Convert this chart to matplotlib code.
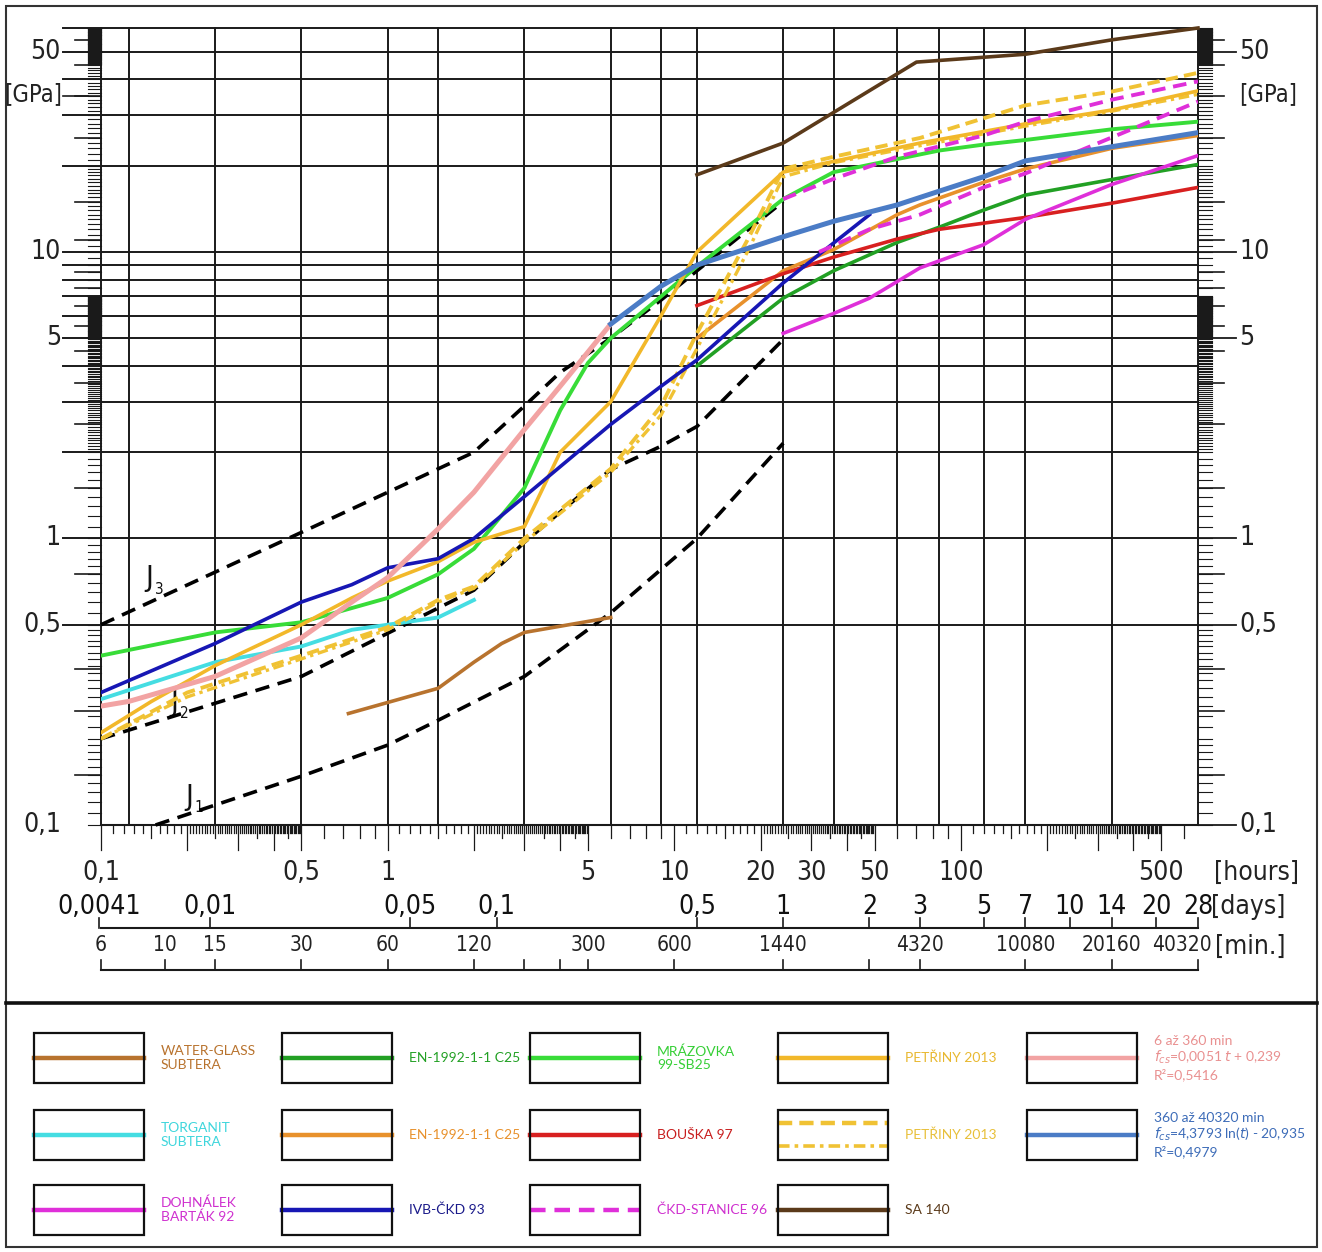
import os
import numpy as np
import matplotlib
matplotlib.use('Agg')
import matplotlib.pyplot as plt
from matplotlib.transforms import blended_transform_factory as blend, offset_copy
from matplotlib.patches import Rectangle
from matplotlib.ticker import NullLocator
from matplotlib import font_manager as fm

_names = {f.name for f in fm.fontManager.ttflist}
LF = 'Lato' if 'Lato' in _names else 'DejaVu Sans'

# condensed technical font for the axis texts, if one is installed
_cond = None
for f in fm.fontManager.ttflist:
    if os.path.basename(f.fname) == 'DejaVuSansCondensed.ttf':
        _cond = f.fname
if _cond is None:
    for f in fm.fontManager.ttflist:
        fn = os.path.basename(f.fname).lower()
        if ('condensed' in fn or 'narrow' in fn) and not any(
                k in fn for k in ('bold', 'italic', 'oblique', 'light', 'thin', 'black',
                                  'semi', 'medium', 'extra', 'heavy')):
            _cond = f.fname
            break


def FP(size):
    if _cond is not None:
        return fm.FontProperties(fname=_cond, size=size)
    return fm.FontProperties(family='Liberation Sans', size=size * 0.88)


# ---------------- data (time in hours, modulus in GPa) ----------------
wg_h = [0.73, 1.5, 2, 2.5, 3, 6]
wg_v = [0.245, 0.30, 0.37, 0.43, 0.47, 0.53]

tor_h = [0.1, 0.25, 0.5, 0.75, 1, 1.5, 2]
tor_v = [0.275, 0.37, 0.42, 0.48, 0.50, 0.53, 0.61]

doh_h = [24, 36, 48, 72, 120, 168, 336, 672]
doh_v = [5.2, 6.1, 6.9, 8.8, 10.6, 13.0, 17.2, 21.7]

eng_h = [12, 24, 36, 60, 84, 120, 168, 336, 672]
eng_v = [4.0, 6.9, 8.6, 10.8, 12.2, 14.0, 15.8, 17.9, 20.2]

eno_h = [12, 24, 36, 60, 72, 120, 168, 336, 672]
eno_v = [5.0, 8.6, 10.2, 13.5, 14.6, 17.5, 19.5, 23.0, 25.5]

ivb_h = [0.1, 0.25, 0.5, 0.75, 1, 1.5, 2, 3, 6, 9, 12, 24, 48]
ivb_v = [0.29, 0.43, 0.60, 0.69, 0.79, 0.85, 1.0, 1.4, 2.5, 3.4, 4.2, 7.8, 13.5]

mraz_h = [0.1, 0.25, 0.5, 1, 1.5, 2, 3, 4, 5, 6, 9, 12, 24, 36, 60, 84, 120, 168, 336, 672]
mraz_v = [0.39, 0.47, 0.51, 0.62, 0.75, 0.92, 1.5, 2.8, 4.1, 5.0, 7.0, 8.9, 15.3, 19.0, 21.1,
          22.6, 23.7, 24.6, 26.8, 28.5]

bou_h = [12, 24, 36, 60, 84, 168, 336, 672]
bou_v = [6.5, 8.4, 9.6, 11.1, 12.0, 13.2, 14.8, 16.8]

ckd1_h = [24, 36, 60, 120, 168, 336, 672]
ckd1_v = [15.3, 18.0, 21.5, 25.5, 28.5, 34.0, 39.4]
ckd2_h = [32, 48, 72, 120, 168, 336, 672]
ckd2_v = [10.0, 12.0, 13.5, 16.8, 18.8, 25.1, 33.5]

pet_h = [0.1, 0.15, 0.25, 0.5, 0.75, 1, 1.5, 2, 3, 4, 6, 9, 12, 24, 72, 168, 336, 672]
pet_v = [0.21, 0.27, 0.36, 0.50, 0.62, 0.71, 0.83, 0.97, 1.1, 2.0, 3.0, 6.0, 10.0, 19.0, 24.0,
         28.0, 31.3, 36.5]

petd_h = [0.1, 0.2, 0.5, 1, 1.5, 2, 3, 6, 9, 12, 18, 24, 36, 72, 168, 336, 672]
petd_v = [0.20, 0.29, 0.39, 0.49, 0.61, 0.68, 1.0, 1.75, 2.9, 5.2, 11.0, 19.5, 21.5, 25.0, 32.5,
          36.3, 42.2]

petdd_h = [0.1, 0.2, 0.5, 1, 1.5, 2, 3, 6, 9, 12, 18, 24, 36, 72, 168, 336, 672]
petdd_v = [0.20, 0.28, 0.38, 0.48, 0.60, 0.67, 0.97, 1.70, 2.7, 4.6, 10.0, 18.3, 20.5, 23.5,
           27.5, 31.0, 35.5]

pink_h = [0.1, 0.125, 0.25, 0.5, 0.75, 1, 1.5, 2, 3, 4, 6]
pink_v = [0.26, 0.27, 0.33, 0.45, 0.60, 0.73, 1.08, 1.45, 2.4, 3.4, 5.6]

blue_h = [6, 9, 12, 24, 36, 60, 84, 120, 168, 336, 672]
blue_v = [5.6, 7.6, 9.0, 11.3, 12.8, 14.6, 16.3, 18.3, 20.8, 23.3, 26.1]

sa_h = [12, 24, 70, 168, 336, 672]
sa_v = [18.6, 24.0, 46.0, 49.0, 55.0, 60.5]

j1_h = [0.155, 0.5, 1, 1.5, 3, 6, 12, 24]
j1_v = [0.1, 0.148, 0.19, 0.232, 0.33, 0.55, 1.0, 2.15]
j2_h = [0.1, 0.5, 2, 3, 6, 9, 12, 24]
j2_v = [0.2, 0.33, 0.66, 0.97, 1.74, 2.1, 2.46, 4.95]
j3_h = [0.1, 0.5, 2, 3, 4, 6, 9, 12, 24]
j3_v = [0.5, 1.05, 2.0, 2.9, 3.8, 5.0, 6.8, 8.6, 15.0]

vgrid_h = [0.1, 0.125, 0.25, 0.5, 1, 1.5, 3, 6, 9, 12, 24, 36, 60, 84, 120, 168, 336, 672]
hgrid_v = [0.5, 1, 2, 3, 4, 5, 6, 7, 8, 9, 10, 20, 30, 40, 50]
ylab_v = [50, 10, 5, 1, 0.5, 0.1]
ylab_t = ['50', '10', '5', '1', '0,5', '0,1']
ymid_v = [55, 45, 35, 25, 15, 11, 8.5, 7.5, 6.5, 5.5, 4.5, 3.5, 2.5, 1.5, 0.75, 0.35, 0.25, 0.15]

hour_lab_v = [0.1, 0.5, 1, 5, 10, 20, 30, 50, 100, 500]
hour_lab_t = ['0,1', '0,5', '1', '5', '10', '20', '30', '50', '100', '500']
day_v = [0.0041, 0.01, 0.05, 0.1, 0.5, 1, 2, 3, 5, 7, 10, 14, 20, 28]
day_t = ['0,0041', '0,01', '0,05', '0,1', '0,5', '1', '2', '3', '5', '7', '10', '14', '20', '28']
min_lab = [6, 10, 15, 30, 60, 120, 300, 600, 1440, 4320, 10080, 20160, 40320]
min_tick = [6, 10, 15, 30, 60, 120, 180, 240, 300, 600, 1440, 2880, 4320, 10080, 20160, 40320]

# ---------------- figure ----------------
W, H = 1322, 1252
fig = plt.figure(figsize=(W / 100, H / 100), dpi=100)
ax0 = fig.add_axes([0, 0, 1, 1], zorder=0)
ax0.set_xlim(0, W)
ax0.set_ylim(H, 0)
ax0.axis('off')

L, R, T, B = 101, 1198, 28, 825
ax = fig.add_axes([L / W, 1 - B / H, (R - L) / W, (B - T) / H], zorder=2)
ax.set_facecolor('none')
ax.set_xscale('log')
ax.set_yscale('log')
ax.set_xlim(0.1, 672)
ax.set_ylim(0.1, 60.5)
for a in (ax.xaxis, ax.yaxis):
    a.set_major_locator(NullLocator())
    a.set_minor_locator(NullLocator())
for s in ax.spines.values():
    s.set_visible(False)

tx_y = blend(ax0.transData, ax.transData)   # x pixel, y data
tx_x = blend(ax.transData, ax0.transData)   # x data, y pixel
GC = '#1a1a1a'
TC = '#222222'

# grid
for h in vgrid_h:
    ax.plot([h, h], [0.1, 60.5], color=GC, lw=1.4, zorder=1, clip_on=False)
for v in hgrid_v:
    ax0.plot([63, R], [v, v], color=GC, lw=1.4, transform=tx_y, clip_on=False)
ax0.plot([63, R], [60.5, 60.5], color=GC, lw=1.4, transform=tx_y, clip_on=False)
ax0.plot([L, R], [0.1, 0.1], color=GC, lw=1.5, transform=tx_y, clip_on=False)

# y rulers (left and right)
ruler = np.concatenate([np.arange(0.1, 0.2, 0.01), np.arange(0.2, 0.5, 0.02),
                        np.arange(0.5, 1.0, 0.05), np.arange(1, 2, 0.1), np.arange(2, 5, 0.05),
                        np.arange(5, 7, 0.02), np.arange(7, 10, 0.5), np.arange(10, 20, 0.5),
                        np.arange(20, 45, 1.0), np.arange(45, 60.5, 0.2)])
for v in ruler:
    ax0.plot([88, L], [v, v], color=GC, lw=0.8, transform=tx_y, clip_on=False)
    ax0.plot([R, 1212], [v, v], color=GC, lw=0.8, transform=tx_y, clip_on=False)
for v in ymid_v:
    ax0.plot([75, L], [v, v], color=GC, lw=1.2, transform=tx_y, clip_on=False)
    ax0.plot([R, 1224], [v, v], color=GC, lw=1.2, transform=tx_y, clip_on=False)
for v in ylab_v:
    ax0.plot([R, 1236], [v, v], color=GC, lw=1.3, transform=tx_y, clip_on=False)
for v, t in zip(ylab_v, ylab_t):
    ax0.text(61, v, t, transform=tx_y, ha='right', va='center', fontproperties=FP(19),
             color=TC)
    ax0.text(1239, v, t, transform=tx_y, ha='left', va='center', fontproperties=FP(19),
             color=TC)
ax0.plot([63, 88], [35, 35], color=GC, lw=1.2, transform=tx_y)
ax0.text(62, 35.5, '[GPa]', transform=tx_y, ha='right', va='center', fontproperties=FP(17),
         color=TC)
ax0.text(1239, 35.5, '[GPa]', transform=tx_y, ha='left', va='center', fontproperties=FP(17),
         color=TC)


# hours ruler below axis
def hour_ticks():
    out = []
    for d in [0.1, 1, 10, 100]:
        for k in range(10, 20):
            v = d * k / 10
            out.append((v, 25 if k == 10 else (13 if k == 15 else 8)))
        for k in range(40, 100):
            v = d * k / 20
            if k % 20 == 0:
                ln = 25
            elif k % 10 == 0:
                ln = 13
            else:
                ln = 8
            out.append((v, ln))
        for k in range(5, 10):
            out.append((d * k, 25 if k == 5 else 13))
    return [(v, l) for v, l in out if v <= 672]


for v, ln in hour_ticks():
    ax0.plot([v, v], [B, B + ln], color=GC, lw=0.9, transform=tx_x, clip_on=False)
for v, t in zip(hour_lab_v, hour_lab_t):
    ax0.text(v, 873, t, transform=tx_x, ha='center', va='center', fontproperties=FP(19),
             color=TC)
ax0.text(1214, 873, '[hours]', ha='left', va='center', fontproperties=FP(19), color=TC)

# days row
ax0.plot([0.1, 672], [928, 928], color=GC, lw=1.5, transform=tx_x)
for v, t in zip(day_v, day_t):
    ax0.plot([v * 24, v * 24], [918, 928], color=GC, lw=1.2, transform=tx_x)
    ax0.text(v * 24, 907, t, transform=tx_x, ha='center', va='center', fontproperties=FP(19),
             color='#111')
ax0.text(1211, 907, '[days]', ha='left', va='center', fontproperties=FP(19), color=TC)

# minutes row
ax0.plot([0.1, 672], [970, 970], color=GC, lw=1.5, transform=tx_x)
for v in min_tick:
    ax0.plot([v / 60, v / 60], [960, 970], color=GC, lw=1.2, transform=tx_x)
tx_last = offset_copy(tx_x, fig=fig, x=14, y=0, units='dots')
for i, v in enumerate(min_lab):
    if i == len(min_lab) - 1:
        ax0.text(v / 60, 945, str(v), transform=tx_last, ha='right', va='center',
                 fontproperties=FP(15), color=TC)
    else:
        ax0.text(v / 60, 945, str(v), transform=tx_x, ha='center', va='center',
                 fontproperties=FP(15), color=TC)
ax0.text(1215, 947, '[min.]', ha='left', va='center', fontproperties=FP(19), color=TC)

# ---------------- colours ----------------
C_WG = '#b8732e'
C_TOR = '#45dde2'
C_DOH = '#df2fd9'
C_ENG = '#22a024'
C_ENO = '#e8912c'
C_IVB = '#1717b4'
C_MRZ = '#38dc38'
C_BOU = '#d82020'
C_CKD = '#df2fd9'
C_PET = '#f2b82a'
C_PETD = '#f0c234'
C_PINK = '#f2a3a3'
C_BLUE = '#4b7cc6'
C_SA = '#5b3a1a'

DASH_J = (0, (4, 2.4))
DASH_P = (0, (3.2, 1.6))
DASHDOT_P = (0, (3.2, 1.4, 1.0, 1.4))
DASH_C = (0, (3.5, 2.0))

# ---------------- series ----------------
for hh, vv in [(j1_h, j1_v), (j2_h, j2_v), (j3_h, j3_v)]:
    ax.plot(hh, vv, color='black', lw=2.6, ls=DASH_J, zorder=3, clip_on=False)

ax.plot(wg_h, wg_v, color=C_WG, lw=2.6, zorder=4)
ax.plot(tor_h, tor_v, color=C_TOR, lw=2.8, zorder=4)
ax.plot(eng_h, eng_v, color=C_ENG, lw=2.6, zorder=4)
ax.plot(eno_h, eno_v, color=C_ENO, lw=2.6, zorder=4)
ax.plot(bou_h, bou_v, color=C_BOU, lw=2.6, zorder=4)
ax.plot(doh_h, doh_v, color=C_DOH, lw=2.6, zorder=4)
ax.plot(ivb_h, ivb_v, color=C_IVB, lw=2.6, zorder=5)
ax.plot(mraz_h, mraz_v, color=C_MRZ, lw=2.8, zorder=4)
ax.plot(petd_h, petd_v, color=C_PETD, lw=2.8, ls=DASH_P, zorder=4)
ax.plot(petdd_h, petdd_v, color=C_PETD, lw=2.4, ls=DASHDOT_P, zorder=4)
ax.plot(pet_h, pet_v, color=C_PET, lw=2.6, zorder=4)
ax.plot(ckd1_h, ckd1_v, color=C_CKD, lw=2.8, ls=DASH_C, zorder=5)
ax.plot(ckd2_h, ckd2_v, color=C_CKD, lw=2.8, ls=DASH_C, zorder=5)
ax.plot(pink_h, pink_v, color=C_PINK, lw=3.6, zorder=5)
ax.plot(blue_h, blue_v, color=C_BLUE, lw=3.6, zorder=5)
ax.plot(sa_h, sa_v, color=C_SA, lw=2.6, zorder=4, clip_on=False)

# J labels
for x, y, s in [(189, 797, '1'), (174, 703, '2'), (149, 578, '3')]:
    ax0.text(x, y, 'J', ha='center', va='center', fontproperties=FP(21), color='#111',
             zorder=6)
    ax0.text(x + 10, y + 11, s, ha='center', va='center', fontproperties=FP(11),
             color='#111', zorder=6)

# ---------------- frame ----------------
ax0.add_patch(Rectangle((6, 6), 1311, 1241, fill=False, ec='#333', lw=1.5))
ax0.plot([6, 1317], [1003, 1003], color='#111', lw=2.6)

# ---------------- legend ----------------
col_x = [34, 282, 530, 778, 1027]
row_y = [1033, 1110, 1185]
BW, BH = 110, 50

legend_items = [
    (0, 0, C_WG, '-', 'WATER-GLASS\nSUBTERA', C_WG),
    (1, 0, C_ENG, '-', 'EN-1992-1-1 C25', C_ENG),
    (2, 0, C_MRZ, '-', 'MRÁZOVKA\n99-SB25', '#36cf36'),
    (3, 0, C_PET, '-', 'PETŘINY 2013', '#e8b830'),
    (4, 0, C_PINK, '-', '6 až 360 min\n$f_{cs}$=0,0051 $t$ + 0,239\nR²=0,5416', '#e99090'),
    (0, 1, C_TOR, '-', 'TORGANIT\nSUBTERA', '#3fd6dc'),
    (1, 1, C_ENO, '-', 'EN-1992-1-1 C25', C_ENO),
    (2, 1, C_BOU, '-', 'BOUŠKA 97', '#c81e1e'),
    (3, 1, C_PETD, 'dd', 'PETŘINY 2013', '#e8c03a'),
    (4, 1, C_BLUE, '-', '360 až 40320 min\n$f_{cs}$=4,3793 ln($t$) - 20,935\nR²=0,4979',
     '#3d6cb8'),
    (0, 2, C_DOH, '-', 'DOHNÁLEK\nBARTÁK 92', '#cf30cf'),
    (1, 2, C_IVB, '-', 'IVB-ČKD 93', '#1a1a8a'),
    (2, 2, C_CKD, '--', 'ČKD-STANICE 96', '#cf30cf'),
    (3, 2, C_SA, '-', 'SA 140', C_SA),
]

for ci, ri, col, st, label, tcol in legend_items:
    x0, y0 = col_x[ci], row_y[ri]
    ax0.add_patch(Rectangle((x0, y0), BW, BH, fill=False, ec='#111', lw=1.6, zorder=3))
    if st == '-':
        ax0.plot([x0, x0 + BW], [y0 + BH / 2] * 2, color=col, lw=3.2, zorder=2)
    elif st == '--':
        ax0.plot([x0, x0 + BW], [y0 + BH / 2] * 2, color=col, lw=3.2, ls=DASH_C, zorder=2)
    else:
        ax0.plot([x0, x0 + BW], [y0 + 13] * 2, color=col, lw=3.2, ls=DASH_P, zorder=2)
        ax0.plot([x0, x0 + BW], [y0 + 36] * 2, color=col, lw=2.6, ls=DASHDOT_P, zorder=2)
    ax0.text(x0 + BW + 17, y0 + BH / 2, label, ha='left', va='center', fontsize=10,
             family=LF, color=tcol, linespacing=1.15)

fig.savefig('out.png', dpi=100)
